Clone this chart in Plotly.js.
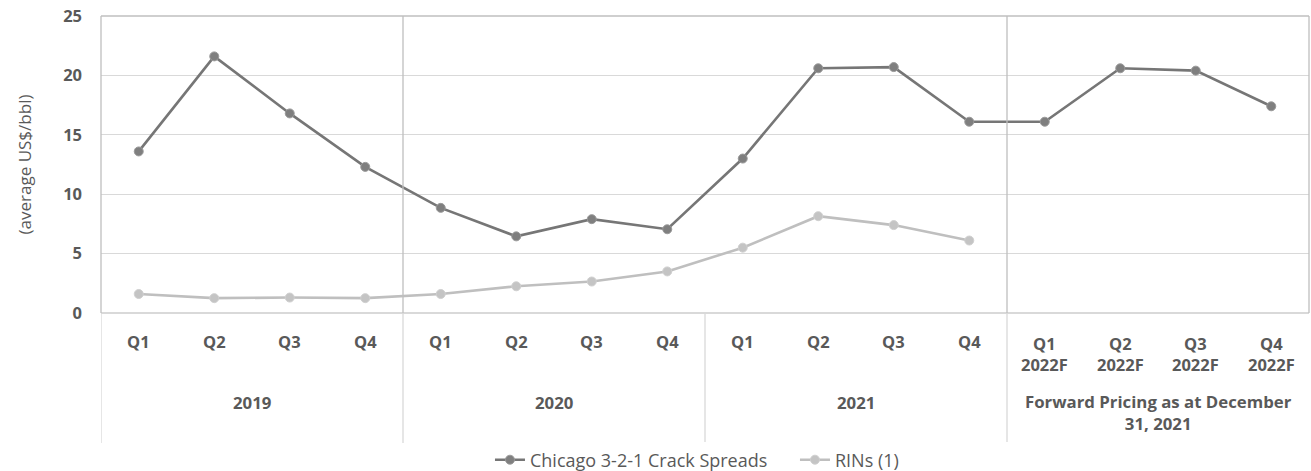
<!DOCTYPE html>
<html>
<head>
<meta charset="utf-8">
<script src="https://cdn.plot.ly/plotly-3.0.1.min.js"></script>
<style>html,body{margin:0;padding:0;background:#fff;}#chart{width:1311px;height:471px;}</style>
</head>
<body>
<div id="chart"></div>
<script>
// ---- data ----
var categories = ["2019 Q1","2019 Q2","2019 Q3","2019 Q4",
                  "2020 Q1","2020 Q2","2020 Q3","2020 Q4",
                  "2021 Q1","2021 Q2","2021 Q3","2021 Q4",
                  "2022 Q1","2022 Q2","2022 Q3","2022 Q4"];
var quarterLabels = ["Q1","Q2","Q3","Q4","Q1","Q2","Q3","Q4","Q1","Q2","Q3","Q4",
                     "Q1<br>2022F","Q2<br>2022F","Q3<br>2022F","Q4<br>2022F"];
var groupLabels = ["2019","2020","2021","Forward Pricing as at December<br>31, 2021"];
var groupSizes = [4,4,4,4];
var crackSpreads = [13.6,21.6,16.8,12.3, 8.85,6.45,7.9,7.05, 13.0,20.6,20.7,16.1, 16.1,20.6,20.4,17.4];
var rins = [1.6,1.25,1.3,1.25, 1.6,2.25,2.65,3.5, 5.5,8.15,7.4,6.1, null,null,null,null];
var seriesNames = ["Chicago 3-2-1 Crack Spreads","RINs (1)"];
var yTitle = "(average US$/bbl)";

// ---- layout helpers ----
var txt = "#595959";
var boldFam = "'Open Sans', sans-serif";
var annotations = [];
var shapes = [];

quarterLabels.forEach(function(q, i){
  var two = q.indexOf("<br>") >= 0;
  annotations.push({x: categories[i], xref:"x", y: two ? -0.1364 : -0.0943, yref:"paper",
    text: q, showarrow:false, yanchor:"middle", xanchor:"center",
    font:{family:boldFam, size:16.5, color:txt, weight:"bold"}});
});
var start = 0;
groupLabels.forEach(function(g, k){
  var mid = start + (groupSizes[k]-1)/2;
  var two = g.indexOf("<br>") >= 0;
  annotations.push({x: mid, xref:"x", y: two ? -0.3367 : -0.303, yref:"paper",
    text: g, showarrow:false, yanchor:"middle", xanchor:"center",
    font:{family:boldFam, size:16.8, color:txt, weight:"bold"}});
  shapes.push({type:"line", xref:"x", yref:"paper", x0:start-0.5, x1:start-0.5, y0:0, y1:-0.438,
    line:{color:"#d9d9d9", width:1.3}});
  start += groupSizes[k];
});
shapes.push({type:"line", xref:"paper", yref:"paper", x0:0, x1:0, y0:0, y1:1, line:{color:"#bfbfbf", width:1.3}});
shapes.push({type:"line", xref:"paper", yref:"paper", x0:0, x1:1, y0:1, y1:1, line:{color:"#bfbfbf", width:1.3}});
shapes.push({type:"line", xref:"paper", yref:"paper", x0:1, x1:1, y0:0, y1:1, line:{color:"#bfbfbf", width:1.3}});
[3.5, 11.5].forEach(function(xv){
  shapes.push({type:"line", xref:"x", yref:"paper", x0:xv, x1:xv, y0:0, y1:1, line:{color:"#bfbfbf", width:1.3}});
});

var traces = [
  {x: categories, y: crackSpreads, name: seriesNames[0], type:"scatter", mode:"lines+markers",
   line:{color:"#767676", width:2.6}, marker:{color:"#7f7f7f", size:9, line:{color:"#9a9a9a", width:1}}},
  {x: categories, y: rins, name: seriesNames[1], type:"scatter", mode:"lines+markers",
   line:{color:"#bfbfbf", width:2.6}, marker:{color:"#c4c4c4", size:9, line:{color:"#d0d0d0", width:1}}}
];

var layout = {
  width:1311, height:471,
  margin:{l:101, r:2, t:16, b:158, autoexpand:false},
  paper_bgcolor:"#fff", plot_bgcolor:"#fff",
  showlegend:true,
  legend:{orientation:"h", x:0.322, xanchor:"left", y:-0.495, yanchor:"middle",
    entrywidth:260, entrywidthmode:"pixels",
    font:{family:"'Open Sans', sans-serif", size:18, color:txt}, itemwidth:30, traceorder:"normal"},
  xaxis:{type:"category", categoryorder:"array", categoryarray:categories, range:[-0.5,15.5],
    showticklabels:false, showgrid:false, zeroline:false, showline:false, fixedrange:true},
  yaxis:{range:[0,25], dtick:5, showgrid:true, gridcolor:"#d9d9d9", gridwidth:1.3,
    zeroline:true, zerolinecolor:"#d9d9d9", zerolinewidth:1.3, showline:false,
    ticks:"", ticklabelstandoff:18, automargin:false,
    tickfont:{family:boldFam, size:16.5, color:txt, weight:"bold"},
    title:{text:yTitle, standoff:27, font:{family:"'Open Sans', sans-serif", size:17, color:txt}}},
  annotations:annotations,
  shapes:shapes
};
Plotly.newPlot("chart", traces, layout, {displayModeBar:false, staticPlot:true});
</script>
</body>
</html>
